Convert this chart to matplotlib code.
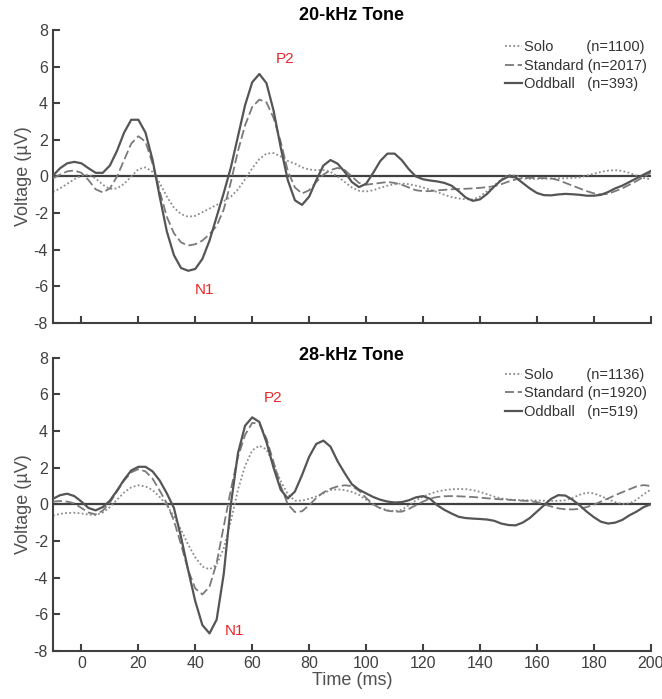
import matplotlib
matplotlib.use("Agg")
import matplotlib.pyplot as plt
import numpy as np

plt.rcParams['font.family'] = ['Liberation Sans', 'DejaVu Sans']
plt.rcParams['axes.unicode_minus'] = False

# time axis (ms), one sample every 2.5 ms
t = np.arange(-10, 200.01, 2.5)

# 20-kHz tone
solo_20 = [-0.85, -0.65, -0.4, -0.15, 0.05, 0.1, -0.1, -0.45, -0.68, -0.65,
           -0.4, 0.0, 0.4, 0.5, 0.25, -0.35, -1.1, -1.7, -2.05, -2.2,
           -2.15, -1.95, -1.75, -1.55, -1.35, -1.1, -0.7, -0.15, 0.45, 0.95,
           1.25, 1.28, 1.1, 0.85, 0.7, 0.5, 0.38, 0.35, 0.35, 0.25,
           0.0, -0.3, -0.6, -0.78, -0.82, -0.75, -0.62, -0.5, -0.42, -0.38,
           -0.42, -0.5, -0.6, -0.72, -0.85, -1.0, -1.12, -1.2, -1.25, -1.25,
           -1.1, -0.8, -0.5, -0.15, 0.1, 0.05, -0.1, -0.13, -0.13, -0.12,
           -0.12, -0.1, -0.1, -0.08, -0.05, 0.05, 0.15, 0.25, 0.32, 0.35,
           0.3, 0.2, 0.05, -0.08, -0.15]
standard_20 = [-0.1, 0.1, 0.28, 0.33, 0.2, -0.2, -0.7, -0.87, -0.65, 0.0,
               0.9, 1.8, 2.2, 1.9, 0.7, -0.8, -2.2, -3.1, -3.6, -3.77,
               -3.7, -3.5, -3.15, -2.7, -1.8, -0.3, 1.4, 2.8, 3.8, 4.2,
               4.05, 3.2, 1.9, 0.3, -0.6, -0.93, -0.75, -0.3, 0.1, 0.35,
               0.47, 0.35, 0.0, -0.35, -0.45, -0.4, -0.35, -0.3, -0.35, -0.45,
               -0.6, -0.75, -0.8, -0.8, -0.76, -0.73, -0.7, -0.68, -0.67, -0.65,
               -0.62, -0.58, -0.53, -0.42, -0.28, -0.16, -0.1, -0.07, -0.08, -0.09,
               -0.1, -0.2, -0.35, -0.5, -0.65, -0.8, -0.92, -0.98, -0.95, -0.8,
               -0.65, -0.45, -0.25, -0.02, 0.2]
oddball_20 = [0.05, 0.45, 0.72, 0.8, 0.72, 0.45, 0.2, 0.2, 0.6, 1.4,
              2.4, 3.1, 3.1, 2.4, 0.9, -1.1, -3.0, -4.3, -5.0, -5.15,
              -5.05, -4.5, -3.5, -2.2, -0.9, 0.5, 2.2, 3.9, 5.15, 5.6,
              5.1, 3.6, 1.6, -0.2, -1.3, -1.55, -1.1, -0.2, 0.6, 0.9,
              0.7, 0.25, -0.3, -0.58, -0.4, 0.2, 0.85, 1.25, 1.25, 0.9,
              0.4, 0.0, -0.15, -0.22, -0.27, -0.35, -0.5, -0.8, -1.15, -1.33,
              -1.25, -0.95, -0.55, -0.2, 0.0, -0.05, -0.35, -0.65, -0.9, -1.02,
              -1.03, -0.98, -0.95, -0.97, -1.0, -1.05, -1.05, -1.0, -0.85, -0.65,
              -0.5, -0.3, -0.1, 0.1, 0.3]

# 28-kHz tone
solo_28 = [-0.62, -0.52, -0.47, -0.46, -0.5, -0.56, -0.58, -0.45, -0.15, 0.25,
           0.65, 0.93, 1.04, 0.98, 0.78, 0.4, -0.05, -0.65, -1.4, -2.2,
           -2.9, -3.4, -3.55, -3.3, -2.4, -0.9, 0.8, 2.1, 2.95, 3.2,
           3.0, 2.2, 1.27, 0.55, 0.2, 0.2, 0.3, 0.43, 0.6, 0.78,
           0.82, 0.78, 0.68, 0.52, 0.25, -0.02, -0.2, -0.32, -0.37, -0.3,
           -0.05, 0.22, 0.42, 0.58, 0.7, 0.78, 0.82, 0.84, 0.83, 0.78,
           0.68, 0.55, 0.42, 0.32, 0.27, 0.24, 0.22, 0.22, 0.21, 0.2,
           0.19, 0.19, 0.22, 0.35, 0.52, 0.64, 0.6, 0.45, 0.28, 0.12,
           0.02, 0.05, 0.25, 0.55, 0.8]
standard_28 = [0.15, 0.18, 0.15, 0.05, -0.2, -0.45, -0.55, -0.35, 0.1, 0.7,
               1.3, 1.75, 1.92, 1.8, 1.4, 0.75, 0.05, -0.9, -2.2, -3.6,
               -4.6, -4.92, -4.5, -3.2, -1.2, 0.8, 2.6, 3.8, 4.45, 4.4,
               3.6, 2.3, 1.0, 0.0, -0.42, -0.38, -0.05, 0.35, 0.65, 0.85,
               0.98, 1.04, 1.0, 0.75, 0.35, 0.0, -0.22, -0.35, -0.4, -0.4,
               -0.25, -0.05, 0.15, 0.32, 0.4, 0.44, 0.45, 0.44, 0.42, 0.4,
               0.37, 0.33, 0.3, 0.27, 0.25, 0.22, 0.2, 0.18, 0.12, 0.0,
               -0.12, -0.22, -0.27, -0.28, -0.25, -0.15, -0.02, 0.15, 0.32, 0.5,
               0.66, 0.82, 0.98, 1.05, 1.0]
oddball_28 = [0.3, 0.5, 0.58, 0.45, 0.15, -0.2, -0.33, -0.15, 0.2, 0.75,
              1.35, 1.85, 2.05, 2.05, 1.8, 1.3, 0.6, -0.2, -1.8, -3.6,
              -5.3, -6.6, -7.05, -6.3, -3.8, 0.0, 2.8, 4.3, 4.75, 4.5,
              3.4, 2.0, 0.8, 0.32, 0.7, 1.6, 2.6, 3.3, 3.48, 3.15,
              2.35, 1.7, 1.1, 0.8, 0.6, 0.4, 0.25, 0.15, 0.1, 0.12,
              0.22, 0.38, 0.45, 0.3, -0.05, -0.3, -0.5, -0.68, -0.75, -0.78,
              -0.8, -0.83, -0.9, -1.05, -1.13, -1.15, -1.0, -0.75, -0.4, -0.05,
              0.3, 0.5, 0.48, 0.25, -0.05, -0.4, -0.7, -0.95, -1.05, -1.0,
              -0.85, -0.6, -0.4, -0.15, 0.0]

titles = ["20-kHz Tone", "28-kHz Tone"]
counts = [[1100, 2017, 393], [1136, 1920, 519]]
names = ["Solo", "Standard", "Oddball"]
pads = ["        ", " ", "   "]
panels = [[solo_20, standard_20, oddball_20], [solo_28, standard_28, oddball_28]]
# peak labels (t, V) per panel: P2 then N1
peak_pos = [[(71.5, 6.4), (43.4, -6.2)], [(67.2, 5.8), (53.6, -6.9)]]

styles = [dict(color="#8c8c8c", lw=1.3, ls=(0, (1, 1.3))),
          dict(color="#7a7a7a", lw=1.3, ls=(0, (5, 2))),
          dict(color="#555555", lw=1.6, ls="-")]

fig = plt.figure(figsize=(6.62, 6.99), dpi=100)
boxes = [[0.080, 0.538, 0.903, 0.419], [0.080, 0.069, 0.903, 0.419]]
title_y = [1 - 15.5 / 699, 1 - 355 / 699]
dark = "#404040"

for i in range(2):
    ax = fig.add_axes(boxes[i])
    ax.axhline(0, color=dark, lw=1.6, zorder=1)
    for j in range(3):
        ax.plot(t, panels[i][j], label=names[j] + pads[j] + "(n=%d)" % counts[i][j],
                zorder=2 + j, solid_joinstyle='round', **styles[j])
    ax.set_xlim(-10, 200)
    ax.set_ylim(-8, 8)
    ax.set_xticks(np.arange(0, 201, 20))
    ax.set_yticks(np.arange(-8, 9, 2))
    ax.spines[['top', 'right']].set_visible(False)
    for s in ['left', 'bottom']:
        ax.spines[s].set_color(dark)
        ax.spines[s].set_linewidth(1.5)
    ax.tick_params(direction='in', length=5, width=1.5, colors=dark,
                   labelsize=11.5, labelcolor="#404040")
    ax.set_ylabel("Voltage (µV)", fontsize=13, color="#505050", labelpad=1)
    fig.text(0.080 + 0.903 / 2, title_y[i], titles[i], fontsize=13,
             fontweight='bold', ha='center', va='center')
    (p2, n1) = peak_pos[i]
    ax.text(p2[0], p2[1], "P2", color="#e8262b", fontsize=11, ha='center', va='center')
    ax.text(n1[0], n1[1], "N1", color="#e8262b", fontsize=11, ha='center', va='center')
    leg = ax.legend(loc='upper right', bbox_to_anchor=(1.01, 1.0), frameon=False,
                    fontsize=10.5, handlelength=1.2, handletextpad=0.1,
                    labelspacing=0.3, borderaxespad=0.3)
    for txt in leg.get_texts():
        txt.set_color("#333333")
    if i == 0:
        ax.tick_params(labelbottom=False)
    else:
        ax.set_xlabel("Time (ms)", fontsize=13, color="#505050", labelpad=1)

fig.savefig("out.png", dpi=100)
